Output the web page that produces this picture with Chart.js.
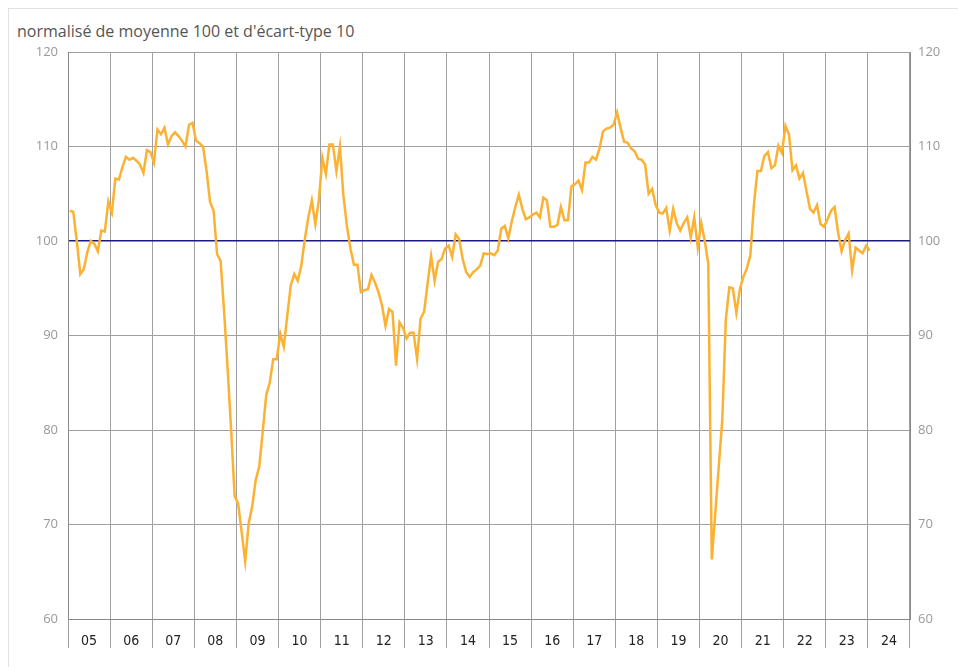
<!DOCTYPE html>
<html>
<head>
<meta charset="utf-8">
<script src="https://cdn.jsdelivr.net/npm/chart.js@4"></script>
<style>
  body { margin: 0; background: #fff; }
  .frame { position: absolute; left: 8px; top: 8px; width: 980px; height: 700px; border: 1px solid #e2e2e2; }
  .unit { position: absolute; left: 17px; top: 20px; font: 16px 'Open Sans', sans-serif; color: #555; }
  .graph-wrap { position: absolute; left: 0; top: 0; width: 958px; height: 667px; }
</style>
</head>
<body>
<div class="frame"></div>
<div class="unit">normalisé de moyenne 100 et d'écart-type 10</div>
<div class="graph-wrap"><canvas class="graph-holder"></canvas></div>
<script>
const yearLabels = ['05','06','07','08','09','10','11','12','13','14','15','16','17','18','19','20','21','22','23','24'];
const yTicks = [60, 70, 80, 90, 100, 110, 120];

// monthly values, one array per year, from Jan 2005
const v2005 = [103.2, 103.1, 100.0, 96.5, 97.0, 98.8, 100.0, 99.7, 98.9, 101.1, 101.0, 104.2];
const v2006 = [103.0, 106.6, 106.5, 107.8, 108.9, 108.6, 108.8, 108.5, 108.1, 107.2, 109.6, 109.4];
const v2007 = [108.3, 111.8, 111.3, 112.0, 110.2, 111.1, 111.5, 111.1, 110.6, 110.0, 112.3, 112.5];
const v2008 = [110.6, 110.35, 110.0, 107.4, 104.1, 103.2, 98.6, 97.9, 92.5, 86.5, 80.0, 73.0];
const v2009 = [72.2, 69.2, 66.1, 70.1, 71.9, 74.7, 76.1, 79.8, 83.7, 85.0, 87.5, 87.5];
const v2010 = [90.2, 88.8, 92.1, 95.3, 96.5, 95.8, 97.4, 100.2, 102.5, 104.3, 101.8, 104.3];
const v2011 = [108.8, 107.1, 110.2, 110.2, 107.4, 110.0, 104.8, 101.6, 99.2, 97.5, 97.5, 94.6];
const v2012 = [94.8, 94.9, 96.4, 95.6, 94.6, 93.2, 91.0, 92.8, 92.5, 86.8, 91.4, 90.8];
const v2013 = [89.7, 90.3, 90.3, 87.5, 91.8, 92.5, 95.5, 98.4, 95.8, 97.8, 98.1, 99.2];
const v2014 = [99.5, 98.3, 100.7, 100.2, 98.1, 96.7, 96.2, 96.7, 97.0, 97.4, 98.7, 98.6];
const v2015 = [98.7, 98.5, 99.0, 101.3, 101.6, 100.3, 102.1, 103.6, 104.9, 103.4, 102.3, 102.5];
const v2016 = [102.8, 103.0, 102.5, 104.6, 104.3, 101.5, 101.5, 101.7, 103.6, 102.2, 102.2, 105.8];
const v2017 = [106.0, 106.4, 105.4, 108.3, 108.3, 108.9, 108.6, 109.8, 111.6, 111.9, 112.0, 112.3];
const v2018 = [113.6, 112.0, 110.5, 110.4, 109.8, 109.5, 108.7, 108.6, 108.1, 105.0, 105.5, 103.8];
const v2019 = [103.0, 102.9, 103.5, 101.1, 103.4, 101.9, 101.1, 101.9, 102.5, 100.4, 102.5, 99.3];
const v2020 = [101.9, 100.0, 97.6, 66.3, 71.2, 76.2, 81.1, 91.7, 95.1, 95.0, 92.4, 94.9];
const v2021 = [96.2, 97.1, 98.5, 103.8, 107.4, 107.4, 109.0, 109.4, 107.7, 108.0, 110.1, 109.3];
const v2022 = [112.2, 111.3, 107.5, 108.0, 106.6, 107.2, 105.3, 103.4, 103.0, 103.8, 101.8, 101.5];
const v2023 = [102.3, 103.2, 103.6, 100.9, 98.9, 100.1, 100.8, 96.9, 99.3, 99.0, 98.7, 99.5];
const v2024 = [99.0];

const monthly = [].concat(v2005, v2006, v2007, v2008, v2009, v2010, v2011, v2012, v2013, v2014,
  v2015, v2016, v2017, v2018, v2019, v2020, v2021, v2022, v2023, v2024);

// month index -> point in the middle of the month
const points = monthly.map((val, i) => ({ x: i + 0.5, y: val }));

const ctx = document.querySelector('.graph-holder').getContext('2d');

const gridGray = '#a0a0a0';
const tickFont = { family: "'Open Sans', sans-serif", size: 13 };

const data = {
  labels: yearLabels,
  datasets: [{
    label: 'indicateur',
    data: points,
    xAxisID: 'xd',
    yAxisID: 'y',
    borderColor: '#FDB132',
    borderWidth: 2.5,
    pointRadius: 0,
    tension: 0,
    fill: false
  }]
};

const options = {
  responsive: true,
  maintainAspectRatio: false,
  animation: false,
  layout: { padding: { top: 52 } },
  plugins: { legend: { display: false }, tooltip: { enabled: false } },
  scales: {
    x: {
      type: 'category',
      position: 'bottom',
      offset: true,
      grid: { offset: true, color: gridGray, lineWidth: 1, tickLength: 29 },
      border: { color: '#888', width: 1 },
      ticks: {
        padding: -15,
        color: '#222',
        font: { family: "'Liberation Sans Narrow', 'DejaVu Sans Condensed', sans-serif", size: 14 },
        maxRotation: 0,
        autoSkip: false
      },
      afterFit: (scale) => { scale.height = 48; }
    },
    xd: {
      type: 'linear',
      min: 0,
      max: 240,
      display: false
    },
    y: {
      position: 'left',
      min: 60,
      max: 120,
      afterBuildTicks: (scale) => { scale.ticks = yTicks.map(v => ({ value: v })); },
      grid: {
        drawTicks: false,
        color: (c) => c.tick && c.tick.value === 100 ? '#1a1a80' : gridGray,
        lineWidth: (c) => c.tick && c.tick.value === 100 ? 1.6 : 1
      },
      border: { color: '#888', width: 1 },
      ticks: { padding: 10, color: '#999', font: tickFont },
      afterFit: (scale) => { scale.width = 68; }
    },
    y2: {
      position: 'right',
      min: 60,
      max: 120,
      afterBuildTicks: (scale) => { scale.ticks = yTicks.map(v => ({ value: v })); },
      grid: { drawOnChartArea: false, drawTicks: false },
      border: { color: '#888', width: 1 },
      ticks: { padding: 8, color: '#999', font: tickFont },
      afterFit: (scale) => { scale.width = 48; }
    }
  }
};

const myLineChart = new Chart(ctx, {
  type: 'line',
  data: data,
  options: options
});
</script>
</body>
</html>
